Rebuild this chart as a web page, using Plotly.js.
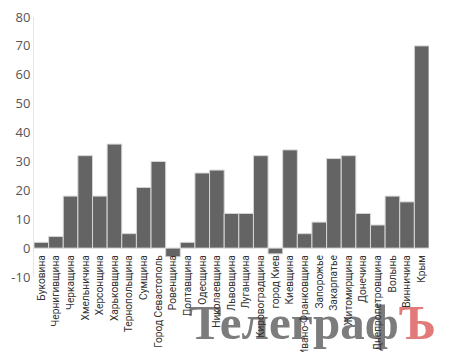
<!DOCTYPE html>
<html>
<head>
<meta charset="utf-8">
<script src="https://cdn.plot.ly/plotly-3.0.1.min.js"></script>
<style>html,body{margin:0;padding:0;background:#fff;}#chart{width:450px;height:352px;}</style>
</head>
<body>
<div id="chart"></div>
<script>
var regions = ["Буковина","Чернигивщина","Черкащина","Хмельничина","Херсонщина","Харьковщина","Тернопольщина","Сумщина","Город Севастополь","Ровенщина","Полтавщина","Одесщина","Николаевщина","Львовщина","Луганщина","Кировоградщина","город Киев","Киевщина","Ивано-Франковщина","Запорожье","Закарпатье","Житомирщина","Донечина","Днепропетровщина","Волынь","Винничина","Крым"];
var values = [2,4,18,32,18,36,5,21,30,-3,2,26,27,12,12,32,-2,34,5,9,31,32,12,8,18,16,70];
var yTicks = [-10,0,10,20,30,40,50,60,70,80];

var trace = {
  type: 'bar',
  x: regions,
  y: values,
  marker: {color: '#646464', line: {color: '#d6d6d6', width: 1}},
  hoverinfo: 'none'
};

var layout = {
  width: 450, height: 352,
  margin: {l: 34, r: 21, t: 17, b: 75},
  paper_bgcolor: '#ffffff', plot_bgcolor: '#ffffff',
  showlegend: false,
  bargap: 0,
  xaxis: {
    type: 'category',
    range: [-0.5, 26.5],
    anchor: 'free', position: 10/90,
    tickangle: -90,
    ticklabelstandoff: 4,
    showline: false, showgrid: false, zeroline: false, ticks: '',
    tickfont: {family: 'Roboto, sans-serif', size: 10.2, color: '#333'}
  },
  yaxis: {
    range: [-10, 80],
    tickvals: yTicks,
    ticktext: yTicks.map(String),
    showgrid: false, zeroline: false,
    showline: true, linecolor: '#e6e6e6', linewidth: 1,
    ticks: '',
    tickfont: {family: 'Open Sans, sans-serif', size: 13, color: '#555'}
  },
  shapes: [{
    type: 'rect', xref: 'paper', yref: 'paper', layer: 'below',
    x0: 0.445, x1: 0.965, y0: -0.2, y1: -0.115,
    line: {width: 0}, fillcolor: 'rgba(0,0,0,0)',
    label: {
      text: "<span style='color:#7c7c7c'>Телеграф</span><span style='color:#e27a7a'>Ъ</span>",
      textposition: 'middle center',
      font: {family: 'Liberation Serif, DejaVu Serif, serif', size: 49, color: '#7c7c7c', weight: 'bold'}
    }
  }]
};

Plotly.newPlot('chart', [trace], layout, {staticPlot: true});
</script>
</body>
</html>
